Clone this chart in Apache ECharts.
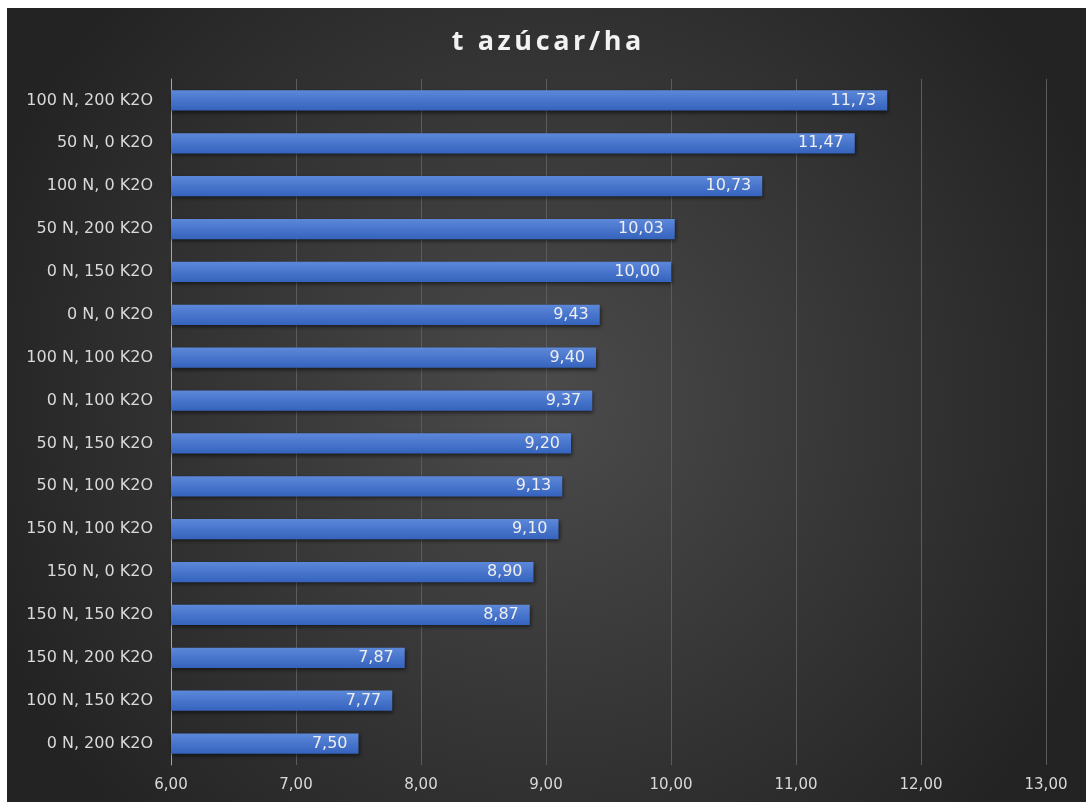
<!DOCTYPE html>
<html>
<head>
<meta charset="utf-8">
<style>
  html, body { margin: 0; padding: 0; background: #ffffff; }
  #chart { position: absolute; left: 7px; top: 8px; width: 1079px; height: 794px; }
</style>
<script src="https://cdn.jsdelivr.net/npm/echarts@6/dist/echarts.min.js"></script>
</head>
<body>
<div id="chart"></div>
<script>
// Treatments, top to bottom
const categories = [
  '100 N, 200 K2O', '50 N, 0 K2O', '100 N, 0 K2O', '50 N, 200 K2O',
  '0 N, 150 K2O', '0 N, 0 K2O', '100 N, 100 K2O', '0 N, 100 K2O',
  '50 N, 150 K2O', '50 N, 100 K2O', '150 N, 100 K2O', '150 N, 0 K2O',
  '150 N, 150 K2O', '150 N, 200 K2O', '100 N, 150 K2O', '0 N, 200 K2O'
];
// Sugar yield (t/ha)
const sugarYield = [
  11.73, 11.47, 10.73, 10.03, 10.00, 9.43, 9.40, 9.37,
  9.20, 9.13, 9.10, 8.90, 8.87, 7.87, 7.77, 7.50
];
const axisMin = 6, axisMax = 13, axisStep = 1;
const titleText = 't azúcar/ha';

const fmt = v => v.toFixed(2).replace('.', ',');
const titleFont = '"Open Sans", "Noto Sans", sans-serif';
const font = '"DejaVu Sans", "Open Sans", sans-serif';

// Spread the title letters out a little (each glyph is its own rich token)
const spacedTitle = Array.from(titleText).map(ch => '{s|' + ch + '}').join('');

const chart = echarts.init(document.getElementById('chart'));
chart.setOption({
  backgroundColor: {
    type: 'radial', x: 0.5, y: 0.5, r: 0.75,
    colorStops: [
      { offset: 0, color: '#4b4b4b' },
      { offset: 1, color: '#232323' }
    ]
  },
  title: {
    text: spacedTitle,
    left: 'center',
    top: 16,
    textStyle: {
      color: '#f2f2f2', fontSize: 27, fontWeight: 'bold', fontFamily: titleFont,
      rich: {
        s: {
          color: '#f2f2f2', fontSize: 27, fontWeight: 'bold', fontFamily: titleFont,
          padding: [0, 1.8, 0, 1.8]
        }
      }
    }
  },
  grid: { left: 164, right: 40, top: 71, bottom: 37, containLabel: false },
  xAxis: {
    type: 'value',
    min: axisMin, max: axisMax, interval: axisStep,
    axisLine: { show: false },
    axisTick: { show: false },
    splitLine: { lineStyle: { color: '#5c5c5c', width: 1 } },
    axisLabel: {
      color: '#d9d9d9', fontSize: 15, fontFamily: font, margin: 13,
      formatter: v => fmt(v)
    }
  },
  yAxis: {
    type: 'category',
    data: categories,
    inverse: true,
    axisLine: { show: true, lineStyle: { color: '#a6a6a6', width: 1 } },
    axisTick: { show: false },
    axisLabel: { color: '#d9d9d9', fontSize: 16, fontFamily: font, margin: 18 }
  },
  series: [{
    type: 'bar',
    data: sugarYield,
    barCategoryGap: '53%',
    itemStyle: {
      color: {
        type: 'linear', x: 0, y: 0, x2: 0, y2: 1,
        colorStops: [
          { offset: 0, color: '#5c88da' },
          { offset: 1, color: '#3563bd' }
        ]
      },
      shadowColor: 'rgba(0,0,0,0.55)',
      shadowBlur: 4,
      shadowOffsetX: 1,
      shadowOffsetY: 2
    },
    label: {
      show: true,
      position: 'insideRight',
      distance: 11,
      color: '#eeeeee',
      fontSize: 16,
      fontFamily: font,
      formatter: p => fmt(p.value)
    }
  }]
});
</script>
</body>
</html>
